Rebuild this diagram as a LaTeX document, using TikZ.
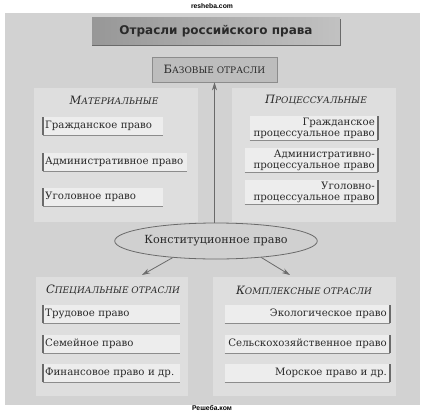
\documentclass[tikz,border=0pt]{standalone}
\usepackage{fontspec}
\setmainfont{DejaVu Serif}
\newfontfamily\titlefont{DejaVu Sans}
\newfontfamily\wmfont{Liberation Sans}
\usetikzlibrary{arrows.meta,shapes.geometric}
\definecolor{bgc}{HTML}{D2D2D2}
\definecolor{panelc}{HTML}{DEDEDE}
\definecolor{boxc}{HTML}{EDEDED}
\definecolor{barc}{HTML}{6A6A6A}
\definecolor{shc}{HTML}{8C8C8C}
\definecolor{titlec}{HTML}{B2B2B2}
\definecolor{basec}{HTML}{BDBDBD}
\definecolor{ellc}{HTML}{D0D0D0}
\definecolor{txtc}{HTML}{2A2A2A}
\newcommand\hsc[2]{{\fontsize{11.5}{12}\selectfont #1}{\fontsize{9}{10}\selectfont #2}}
\begin{document}
\begin{tikzpicture}[x=1pt,y=-1pt,
  lbox/.style={fill=boxc, draw=none, inner sep=0pt, minimum height=18pt, anchor=north west,
     font=\fontsize{10.2}{11.5}\selectfont, text=txtc,
     append after command={(\tikzlastnode.north west) edge[draw=barc, line width=1.1pt] (\tikzlastnode.south west)
        (\tikzlastnode.south west) edge[draw=shc, line width=1pt] (\tikzlastnode.south east)}},
  rbox/.style={fill=boxc, draw=none, inner sep=0pt, minimum height=18pt, anchor=north east,
     font=\fontsize{10.2}{11.5}\selectfont, text=txtc,
     append after command={(\tikzlastnode.north east) edge[draw=barc, line width=1.1pt] (\tikzlastnode.south east)
        (\tikzlastnode.south west) edge[draw=shc, line width=1pt] (\tikzlastnode.south east)}},
  head/.style={font=\itshape, text=txtc},
  arr/.style={draw=barc, line width=0.8pt, -{Stealth[length=8pt,width=5pt,fill=shc]}}
]
\useasboundingbox (0,0) rectangle (424,413);
\fill[white] (0,0) rectangle (424,413);
\fill[bgc] (5,13) rectangle (420,405);
% panels
\fill[panelc] (34,88) rectangle (198,222);
\fill[panelc] (232,88) rectangle (396,222);
\fill[panelc] (36,277) rectangle (188,396);
\fill[panelc] (213,277) rectangle (396,396);
% watermarks
\node[font=\wmfont\bfseries\fontsize{6.8}{7}\selectfont] (wm1) at (212,6) {resheba.com};
\node[font=\wmfont\bfseries\fontsize{6.8}{7}\selectfont] (wm2) at (212,408) {Решеба.ком};
% title
\node[left color=titlec!85!black, right color=titlec!80!white, minimum width=248pt, minimum height=28pt, inner sep=0pt,
      font=\titlefont\bfseries\fontsize{12}{13}\selectfont, text=txtc] (title) at (216,31) {Отрасли российского права};
\draw[barc, line width=1.3pt] ([yshift=-2pt]title.north east) -- (title.south east) -- (title.south west);
% base
\node[fill=basec, draw=shc, line width=0.6pt, minimum width=125pt, minimum height=25pt, inner sep=0pt,
      text=txtc] (base) at (214.5,69.5) {\hsc{Б}{АЗОВЫЕ ОТРАСЛИ}};
% headings
\node[head] (mat) at (114,100) {\hsc{М}{АТЕРИАЛЬНЫЕ}};
\node[head] (proc) at (316,100) {\hsc{П}{РОЦЕССУАЛЬНЫЕ}};
\node[head] (spec) at (113,290) {\hsc{С}{ПЕЦИАЛЬНЫЕ ОТРАСЛИ}};
\node[head] (kompl) at (304,290) {\hsc{К}{ОМПЛЕКСНЫЕ ОТРАСЛИ}};
% upper left boxes
\node[lbox, minimum width=120pt, text width=116pt, align=left] (g1) at (43,117) {Гражданское право};
\node[lbox, minimum width=144pt, text width=140pt, align=left] (g2) at (43,153) {Административное право};
\node[lbox, minimum width=120pt, text width=116pt, align=left] (g3) at (43,188) {Уголовное право};
% upper right boxes
\node[rbox, minimum width=128pt, minimum height=24pt, text width=122pt, align=right] (p1) at (378,116) {Гражданское\\процессуальное право};
\node[rbox, minimum width=133pt, minimum height=24pt, text width=127pt, align=right] (p2) at (378,148) {Административно-\\процессуальное право};
\node[rbox, minimum width=133pt, minimum height=24pt, text width=127pt, align=right] (p3) at (378,180) {Уголовно-\\процессуальное право};
% constitution
\node[ellipse, fill=ellc, draw=barc, line width=0.8pt, minimum width=173pt, minimum height=36pt, inner sep=0pt,
      font=\fontsize{11.2}{12}\selectfont, text=txtc] (konst) at (216,241) {Конституционное право};
% lower left boxes
\node[lbox, minimum width=137pt, text width=133pt, align=left] (s1) at (43,305) {Трудовое право};
\node[lbox, minimum width=137pt, text width=133pt, align=left] (s2) at (43,335) {Семейное право};
\node[lbox, minimum width=137pt, text width=133pt, align=left] (s3) at (43,364) {Финансовое право и др.};
% lower right boxes
\node[rbox, minimum width=165pt, text width=159pt, align=right] (k1) at (390,305) {Экологическое право};
\node[rbox, minimum width=165pt, text width=159pt, align=right] (k2) at (390,335) {Сельскохозяйственное право};
\node[rbox, minimum width=165pt, text width=159pt, align=right] (k3) at (390,364) {Морское право и др.};
% arrows
\coordinate (aL) at (142,275);
\coordinate (aR) at (290,275);
\draw[arr] (konst.north -| base.south) -- (base.south);
\draw[arr] (konst.201) -- (aL);
\draw[arr] (konst.-20) -- (aR);
\end{tikzpicture}
\end{document}
